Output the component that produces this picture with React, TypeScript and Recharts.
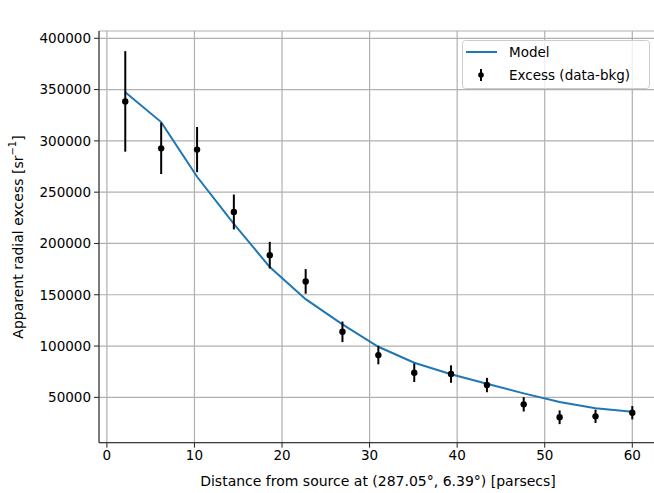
import {
  ComposedChart,
  Line,
  Scatter,
  ErrorBar,
  XAxis,
  YAxis,
  CartesianGrid,
  Legend,
  Label,
} from "recharts";

const distance = [2.1, 6.2, 10.3, 14.5, 18.6, 22.7, 26.9, 31.0, 35.1, 39.3, 43.4, 47.6, 51.7, 55.8, 60.0];
const excess = [338500, 292700, 291500, 230700, 188600, 163000, 113900, 91200, 74000, 72700, 62000, 43200, 30600, 31500, 35000];
const excessErr = [49000, 25000, 22000, 17000, 13000, 12000, 10000, 9000, 9000, 8500, 7000, 7000, 6700, 6500, 6500];
const model = [347300, 318300, 265000, 219000, 177000, 145700, 121100, 99300, 83700, 72500, 63300, 53900, 45500, 39300, 36000];

const xTicks = [0, 10, 20, 30, 40, 50, 60];
const yTicks = [50000, 100000, 150000, 200000, 250000, 300000, 350000, 400000];

const data = distance.map((d, i) => ({
  distance: d,
  excess: excess[i],
  err: excessErr[i],
  model: model[i],
}));

const FONT = "DejaVu Sans";
const BLUE = "#1f77b4";

const renderLegend = () => (
  <svg width={189} height={50}>
    <rect x={0.5} y={0.5} width={187} height={48} rx={3} fill="#fff" fillOpacity={0.8} stroke="#cccccc" />
    <line x1={4} x2={35} y1={12} y2={12} stroke={BLUE} strokeWidth={2} />
    <text x={47} y={12} fontSize={13.5} fontFamily={FONT} dominantBaseline="central" fill="#000">
      Model
    </text>
    <line x1={19} x2={19} y1={29} y2={41} stroke="#000" strokeWidth={2} />
    <circle cx={19} cy={35} r={2.8} fill="#000" />
    <text x={47} y={35} fontSize={13.5} fontFamily={FONT} dominantBaseline="central" fill="#000">
      Excess (data-bkg)
    </text>
  </svg>
);

export default function App() {
  return (
    <div style={{ position: "absolute", top: 0, left: 0, width: 654, height: 493, overflow: "hidden", background: "#fff" }}>
      <ComposedChart
        width={664}
        height={493}
        data={data}
        margin={{ top: 31, right: 6.3, bottom: 0, left: 0 }}
        style={{ fontFamily: FONT }}
      >
        <CartesianGrid stroke="#b0b0b0" strokeWidth={1.2} />
        <XAxis
          dataKey="distance"
          type="number"
          domain={[-0.9, 62.9]}
          allowDataOverflow
          ticks={xTicks}
          height={50.3}
          tickSize={5}
          tickMargin={3}
          tick={{ fill: "#000", fontSize: 13.5 }}
          stroke="#222"
        >
          <Label
            content={() => (
              <text x={378} y={486} textAnchor="middle" fontSize={14} fontFamily={FONT} fill="#000">
                Distance from source at (287.05°, 6.39°) [parsecs]
              </text>
            )}
          />
        </XAxis>
        <XAxis
          xAxisId="top"
          orientation="top"
          dataKey="distance"
          type="number"
          domain={[-0.9, 62.9]}
          allowDataOverflow
          height={0}
          tick={false}
          tickLine={false}
          stroke="#222"
        >
          <Label
            content={() => (
              <text x={378} y={21} textAnchor="middle" fontSize={14.3} fontFamily={FONT} fill="#000">
                Radial profile of 3HWC J1908+063
              </text>
            )}
          />
        </XAxis>
        <YAxis
          type="number"
          domain={[5800, 407100]}
          allowDataOverflow
          ticks={yTicks}
          width={99}
          tickSize={5}
          tickMargin={3}
          tick={{ fill: "#000", fontSize: 13.5 }}
          stroke="#222"
        >
          <Label
            content={() => (
              <text
                x={18}
                y={237}
                transform="rotate(-90, 18, 237)"
                textAnchor="middle"
                dominantBaseline="central"
                fontSize={14}
                fontFamily={FONT}
                fill="#000"
              >
                Apparent radial excess [sr
                <tspan dy={-6} fontSize={10}>−1</tspan>
                <tspan dy={6}>]</tspan>
              </text>
            )}
          />
        </YAxis>
        <Line
          dataKey="model"
          type="linear"
          stroke={BLUE}
          strokeWidth={2}
          dot={false}
          isAnimationActive={false}
        />
        <Scatter
          dataKey="excess"
          fill="#000"
          isAnimationActive={false}
          shape={(p: any) => <circle cx={p.cx} cy={p.cy} r={3.2} fill="#000" />}
        >
          <ErrorBar dataKey="err" direction="y" width={0} stroke="#000" strokeWidth={2} />
        </Scatter>
        <Legend
          content={renderLegend}
          layout="vertical"
          align="center"
          verticalAlign="middle"
          wrapperStyle={{ top: 39.5, left: 461.5, width: 189, height: 50 }}
        />
      </ComposedChart>
    </div>
  );
}
